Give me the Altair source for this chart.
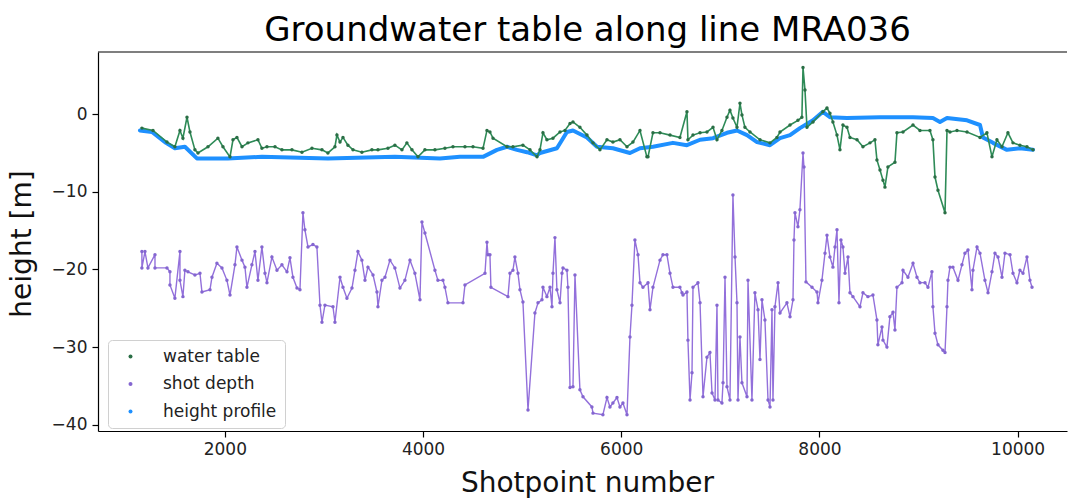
import altair as alt
import pandas as pd

title_text = "Groundwater table along line MRA036"
series_names = ["water table", "shot depth", "height profile"]
marker_colors = ["#2A6E45", "#8466D0", "#1E90FF"]
line_colors = {"water table": "#2E8B57", "shot depth": "#9370DB", "height profile": "#1E90FF"}
x_ticks = [2000, 4000, 6000, 8000, 10000]
y_ticks = [-40, -30, -20, -10, 0]

water_table = [(1163,-1.8),(1275,-2.1),(1416,-3.6),(1496,-4.2),(1547,-2.1),(1577,-3.1),(1618,-0.4),(1648,-2.3),
    (1698,-4.6),(1729,-5.0),(1830,-4.2),(1930,-3.1),(1981,-4.2),(2052,-5.5),(2082,-3.3),(2122,-3.0),(2173,-4.2),
    (2233,-3.7),(2334,-3.3),(2374,-4.4),(2425,-4.2),(2506,-4.2),(2576,-4.6),(2677,-4.6),(2778,-4.9),(2879,-4.4),
    (2980,-4.6),(3040,-5.0),(3111,-4.2),(3131,-2.7),(3162,-3.6),(3192,-3.0),(3242,-4.0),(3293,-4.6),(3383,-4.9),
    (3484,-4.6),(3545,-4.6),(3646,-4.4),(3716,-4.0),(3787,-4.6),(3837,-3.7),(3888,-4.6),(3949,-5.5),(4019,-4.6),
    (4120,-4.6),(4221,-4.4),(4302,-4.2),(4423,-4.2),(4504,-4.2),(4605,-4.4),(4645,-2.1),(4675,-2.3),(4706,-3.1),
    (4847,-4.2),(4907,-4.2),(5008,-4.0),(5079,-4.6),(5150,-5.5),(5180,-4.6),(5210,-2.4),(5250,-3.3),(5311,-3.1),
    (5382,-2.3),(5432,-2.1),(5483,-1.2),(5513,-1.0),(5583,-1.7),(5654,-2.7),(5715,-3.7),(5785,-4.6),(5856,-3.3),
    (5916,-3.6),(5987,-3.3),(6058,-4.2),(6118,-3.6),(6189,-2.1),(6259,-5.5),(6270,-5.5),(6320,-2.4),(6391,-2.4),
    (6492,-2.7),(6592,-3.0),(6663,0.3),(6673,-3.3),(6724,-2.7),(6795,-2.4),(6865,-2.3),(6926,-1.7),(6966,-3.3),
    (7016,-2.1),(7067,-0.4),(7097,0.5),(7127,-0.5),(7168,-1.7),(7198,1.4),(7218,-0.1),(7248,-1.7),(7299,-2.3),
    (7400,-3.3),(7501,-3.7),(7571,-3.0),(7602,-2.3),(7703,-1.4),(7783,-0.8),(7823,-0.4),(7834,6.0),(7854,3.1),
    (7874,-1.7),(7935,-1.0),(8035,0.3),(8076,0.8),(8106,0.1),(8136,-1.0),(8177,-2.7),(8207,-4.6),(8237,-1.4),
    (8278,-1.7),(8308,-3.0),(8379,-3.3),(8439,-4.2),(8510,-3.7),(8560,-3.3),(8580,-5.9),(8611,-7.2),(8641,-8.5),
    (8661,-9.4),(8691,-6.8),(8762,-6.2),(8782,-2.4),(8843,-2.3),(8944,-1.4),(9014,-2.1),(9115,-2.1),(9145,-3.3),
    (9166,-8.1),(9196,-9.8),(9267,-12.7),(9287,-2.1),(9317,-2.3),(9388,-2.1),(9489,-2.3),(9620,-3.0),(9690,-2.4),
    (9741,-5.5),(9791,-3.3),(9842,-4.2),(9902,-2.4),(9953,-3.7),(10023,-4.0),(10094,-4.2),(10155,-4.6)]

shot_depth = [(1163,-17.7),(1163,-19.8),(1194,-17.7),(1224,-19.8),(1295,-18.1),(1295,-19.8),(1416,-19.8),
    (1446,-20.3),(1446,-22.0),(1496,-23.7),(1547,-17.7),(1547,-21.4),(1577,-23.5),(1597,-20.1),(1628,-20.3),
    (1698,-20.7),(1749,-20.5),(1769,-22.9),(1850,-22.6),(1870,-21.0),(1920,-19.2),(1971,-19.8),(2021,-21.4),
    (2052,-23.3),(2102,-19.4),(2122,-17.1),(2173,-18.8),(2203,-19.7),(2223,-22.3),(2273,-19.4),(2304,-17.7),
    (2334,-21.4),(2374,-17.1),(2405,-20.5),(2425,-21.7),(2475,-18.4),(2526,-20.1),(2576,-19.4),(2627,-20.3),
    (2657,-18.5),(2687,-21.0),(2728,-22.4),(2758,-22.6),(2788,-12.7),(2808,-14.9),(2839,-17.1),(2889,-16.8),
    (2929,-17.1),(2960,-24.6),(2980,-26.8),(3010,-24.6),(3091,-24.8),(3111,-26.8),(3162,-21.0),(3192,-22.3),
    (3232,-23.7),(3283,-22.4),(3313,-20.1),(3343,-17.7),(3383,-18.8),(3414,-21.4),(3444,-19.7),(3495,-20.7),
    (3535,-22.9),(3545,-24.8),(3585,-21.4),(3616,-21.0),(3666,-18.8),(3716,-19.8),(3767,-22.4),(3817,-21.4),
    (3868,-18.8),(3918,-20.5),(3969,-23.9),(3989,-13.9),(4019,-15.3),(4120,-20.1),(4150,-21.4),(4201,-21.4),
    (4221,-22.3),(4251,-24.3),(4403,-24.3),(4423,-22.0),(4625,-20.5),(4645,-16.5),(4655,-18.1),(4675,-18.1),
    (4685,-22.3),(4857,-23.5),(4877,-20.5),(4907,-20.1),(4927,-18.4),(4958,-20.5),(4978,-22.6),(5008,-24.2),
    (5059,-38.1),(5129,-25.6),(5160,-24.3),(5200,-23.9),(5210,-22.3),(5250,-23.5),(5281,-22.3),(5301,-24.8),
    (5311,-20.5),(5331,-15.9),(5351,-22.6),(5382,-24.3),(5402,-20.5),(5412,-19.8),(5452,-20.1),(5462,-22.3),
    (5483,-35.2),(5513,-35.1),(5533,-20.7),(5583,-35.5),(5614,-36.4),(5704,-37.7),(5715,-38.5),(5815,-38.7),
    (5856,-36.5),(5886,-37.7),(5916,-37.2),(5957,-36.5),(5987,-37.7),(6017,-37.2),(6058,-38.7),(6088,-28.7),
    (6108,-24.6),(6138,-16.2),(6169,-18.1),(6189,-21.7),(6219,-22.3),(6270,-21.7),(6290,-25.2),(6320,-22.3),
    (6391,-18.8),(6421,-18.1),(6461,-18.1),(6492,-20.5),(6522,-22.3),(6592,-22.3),(6613,-23.0),(6623,-23.3),
    (6663,-22.9),(6673,-29.1),(6694,-36.8),(6714,-33.3),(6724,-22.3),(6774,-21.7),(6795,-24.3),(6825,-36.4),
    (6865,-31.3),(6895,-30.7),(6916,-35.9),(6946,-36.8),(6966,-24.6),(6976,-36.8),(7016,-37.2),(7027,-34.6),
    (7047,-21.0),(7067,-35.1),(7097,-36.8),(7127,-10.4),(7148,-18.4),(7168,-24.3),(7178,-36.8),(7198,-28.7),
    (7218,-34.6),(7269,-36.4),(7279,-21.4),(7319,-36.8),(7349,-23.0),(7380,-25.2),(7400,-31.6),(7420,-23.9),
    (7450,-26.5),(7481,-36.8),(7501,-37.7),(7521,-25.2),(7531,-36.8),(7551,-24.8),(7582,-21.7),(7602,-25.6),
    (7672,-24.3),(7703,-26.1),(7733,-23.9),(7743,-16.2),(7753,-12.7),(7783,-14.5),(7803,-12.3),(7834,-5.0),
    (7844,-6.8),(7864,-21.6),(7925,-22.3),(7975,-22.9),(7985,-24.3),(8025,-21.4),(8056,-17.9),(8076,-15.6),
    (8106,-18.4),(8136,-19.7),(8157,-17.1),(8177,-14.9),(8197,-24.3),(8217,-16.2),(8237,-17.1),(8258,-20.5),
    (8288,-18.4),(8308,-23.0),(8338,-23.5),(8409,-24.8),(8439,-23.0),(8489,-23.5),(8540,-23.3),(8580,-26.5),
    (8590,-29.7),(8631,-27.4),(8641,-29.1),(8681,-30.0),(8711,-26.1),(8742,-25.5),(8762,-27.8),(8782,-22.3),
    (8833,-21.7),(8843,-20.1),(8893,-21.0),(8944,-19.2),(8984,-21.0),(9014,-21.7),(9065,-21.7),(9095,-22.3),
    (9135,-20.3),(9145,-24.8),(9166,-28.2),(9196,-29.7),(9246,-30.4),(9267,-30.7),(9287,-24.8),(9297,-21.4),
    (9317,-19.7),(9347,-19.7),(9398,-21.4),(9438,-19.4),(9468,-17.9),(9499,-17.5),(9539,-22.6),(9549,-20.1),
    (9590,-17.1),(9620,-17.9),(9670,-21.4),(9701,-23.0),(9741,-20.3),(9771,-17.9),(9802,-18.4),(9842,-21.0),
    (9872,-17.9),(9923,-18.1),(9953,-20.5),(9993,-21.7),(10023,-20.1),(10054,-20.5),(10094,-18.4),(10124,-21.4),
    (10145,-22.3)]

height_profile = [(1143,-2.1),(1265,-2.3),(1406,-3.7),(1496,-4.4),(1597,-4.2),(1718,-5.7),(2031,-5.7),(2374,-5.5),
    (3040,-5.7),(3716,-5.5),(4171,-5.7),(4372,-5.5),(4605,-5.5),(4746,-4.6),(4847,-4.2),(4948,-4.6),(5049,-4.9),
    (5150,-5.3),(5180,-5.0),(5351,-4.4),(5452,-2.3),(5513,-2.1),(5654,-3.0),(5755,-4.2),(5916,-4.4),(6088,-5.0),
    (6189,-4.4),(6320,-4.2),(6522,-3.7),(6663,-4.0),(6795,-3.3),(6926,-3.1),(7067,-2.4),(7168,-2.1),(7269,-2.7),
    (7370,-3.6),(7501,-4.0),(7602,-3.1),(7703,-2.7),(7803,-1.8),(7935,-0.8),(8035,0.3),(8106,-0.4),(8278,-0.5),
    (8611,-0.4),(8944,-0.4),(9145,-0.5),(9216,-1.0),(9287,-0.5),(9489,-0.8),(9620,-1.4),(9650,-3.0),(9751,-3.7),
    (9892,-4.6),(10023,-4.4),(10155,-4.6)]


def frame(pairs, name):
    return pd.DataFrame({
        "shotpoint": [p[0] for p in pairs],
        "height": [p[1] for p in pairs],
        "series": name,
        "i": list(range(len(pairs))),
    })


df_wt = frame(water_table, "water table")
df_sd = frame(shot_depth, "shot depth")
df_hp = frame(height_profile, "height profile")
df_pts = pd.concat([df_wt, df_sd], ignore_index=True)

W, H = 969, 379
FONT = "DejaVu Sans"

x_enc = alt.X(
    "shotpoint:Q",
    scale=alt.Scale(domain=[720, 10498], nice=False, zero=False),
    axis=alt.Axis(values=x_ticks, format="d", title="Shotpoint number",
                  titleX=489, titleY=60, titleBaseline="alphabetic", titleAlign="center",
                  titleFontSize=28, labelPadding=4),
)
y_enc = alt.Y(
    "height:Q",
    scale=alt.Scale(domain=[-40.8, 8.0], nice=False, zero=False),
    axis=alt.Axis(values=y_ticks, title="height [m]",
                  labelExpr="replace(format(datum.value, 'd'), '-', '\u2212')",
                  titleX=-68, titleY=191.5, titleAngle=-90, titleBaseline="alphabetic",
                  titleAlign="center", titleFontSize=28, labelPadding=5),
)

hp_line = alt.Chart(df_hp).mark_line(
    color=line_colors["height profile"], strokeWidth=4, strokeCap="round", strokeJoin="round", clip=True
).encode(x=x_enc, y=y_enc, order="i:Q")

wt_line = alt.Chart(df_wt).mark_line(
    color=line_colors["water table"], strokeWidth=1.6, clip=True
).encode(x=x_enc, y=y_enc, order="i:Q")

sd_line = alt.Chart(df_sd).mark_line(
    color=line_colors["shot depth"], strokeWidth=1.4, clip=True
).encode(x=x_enc, y=y_enc, order="i:Q")

pts = alt.Chart(df_pts).mark_circle(size=12, opacity=1, clip=True).encode(
    x=x_enc,
    y=y_enc,
    color=alt.Color(
        "series:N",
        scale=alt.Scale(domain=series_names, range=marker_colors),
        legend=alt.Legend(
            title=None, orient="none", legendX=10, legendY=288,
            padding=8, symbolOffset=6, labelOffset=24, rowPadding=9.5,
            labelFontSize=17, labelFont=FONT, labelColor="#222",
            symbolSize=16, symbolType="circle",
            strokeColor="#d0d0d0", fillColor="rgba(255,255,255,0.85)", cornerRadius=4,
        ),
    ),
)

top_frame = alt.Chart(pd.DataFrame({"k": [0]})).mark_rule(color="black", strokeWidth=1.2).encode(
    x=alt.value(0), x2=alt.value(W), y=alt.value(0)
)

chart = alt.layer(hp_line, wt_line, sd_line, pts, top_frame).properties(
    width=W,
    height=H,
    title=alt.TitleParams(text=title_text, fontSize=34, font=FONT, fontWeight="normal",
                          color="black", anchor="middle", dx=5, offset=3),
    autosize=alt.AutoSizeParams(type="none"),
    padding={"left": 98, "top": 52, "right": 1, "bottom": 68},
).configure(
    background="white"
).configure_view(
    stroke=None
).configure_axis(
    grid=False, domainColor="black", domainWidth=1.2, tickColor="black", tickWidth=1.2,
    tickSize=6, labelFont=FONT, labelFontSize=17, labelColor="#222",
    titleFont=FONT, titleFontWeight="normal", titleColor="#111",
)

chart.save("out.html", embed_options={"renderer": "svg", "actions": False})
